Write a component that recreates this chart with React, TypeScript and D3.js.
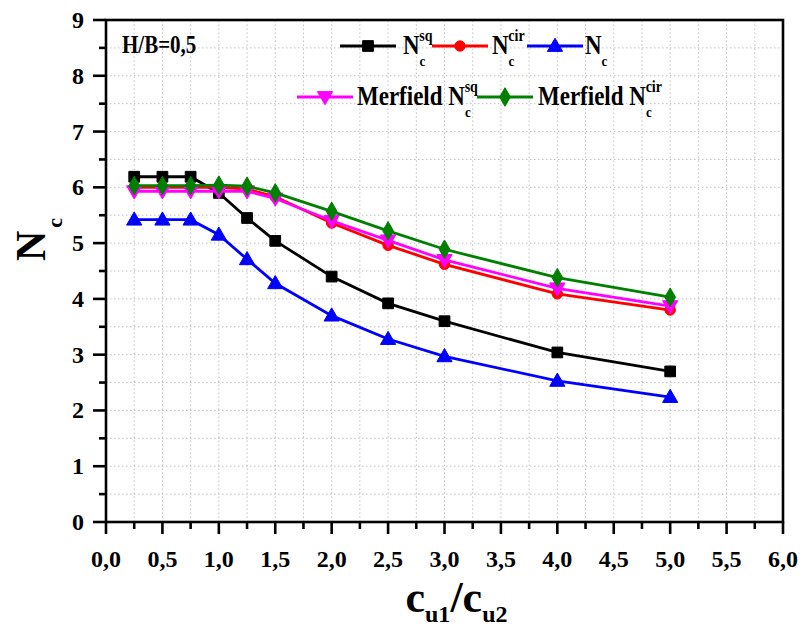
import React from "react";
import * as d3 from "d3";

const ratios = [0.25, 0.5, 0.75, 1.0, 1.25, 1.5, 2.0, 2.5, 3.0, 4.0, 5.0];
const ncSq = [6.19, 6.19, 6.19, 5.9, 5.45, 5.04, 4.4, 3.92, 3.6, 3.04, 2.7];
const ncCir = [6.0, 6.0, 6.0, 6.0, 5.97, 5.83, 5.36, 4.96, 4.62, 4.09, 3.8];
const ncPlain = [5.42, 5.42, 5.42, 5.15, 4.71, 4.28, 3.7, 3.28, 2.97, 2.53, 2.24];
const merfieldSq = [5.93, 5.93, 5.93, 5.93, 5.93, 5.8, 5.4, 5.05, 4.7, 4.19, 3.87];
const merfieldCir = [6.03, 6.03, 6.03, 6.04, 6.02, 5.9, 5.57, 5.22, 4.89, 4.38, 4.03];

const xTicks = [0, 0.5, 1, 1.5, 2, 2.5, 3, 3.5, 4, 4.5, 5, 5.5, 6];
const yTicks = [0, 1, 2, 3, 4, 5, 6, 7, 8, 9];

const W = 803, H = 628;
const m = { left: 106, right: 20, top: 20, bottom: 106 };
const font = "'Liberation Serif', 'Times New Roman', serif";

// drawing order: last one ends on top
const series = [
  { key: "plain", vals: ncPlain, color: "#0000ff", sym: d3.symbolTriangle, rot: 0 },
  { key: "sq", vals: ncSq, color: "#000000", sym: d3.symbolSquare, rot: 0 },
  { key: "cir", vals: ncCir, color: "#ff0000", sym: d3.symbolCircle, rot: 0 },
  { key: "msq", vals: merfieldSq, color: "#ff00ff", sym: d3.symbolTriangle, rot: 180 },
  { key: "mcir", vals: merfieldCir, color: "#008000", sym: d3.symbolDiamond, rot: 0 },
];

const sizes: Record<string, number> = { plain: 100, sq: 115, cir: 85, msq: 100, mcir: 100 };

export default function App() {
  const x = d3.scaleLinear().domain([0, 6]).range([m.left, W - m.right]);
  const y = d3.scaleLinear().domain([0, 9]).range([H - m.bottom, m.top]);
  const fmt = (v: number) => d3.format(".1f")(v).replace(".", ",");
  const line = d3.line<number>().x((_, i) => x(ratios[i])).y((d) => y(d));

  const xMinor = d3.range(0, 6.01, 0.25);
  const yMinor = d3.range(0, 9.01, 0.5);
  const x0 = x(0), x1 = x(6), y0 = y(0), y1 = y(9);

  const marker = (s: any, cx: number, cy: number, k: string) => (
    <path
      d={d3.symbol().type(s.sym).size(sizes[s.key])() as string}
      transform={`translate(${cx},${cy + (s.sym === d3.symbolTriangle ? (s.rot ? -1 : 1) : 0)}) rotate(${s.rot})`}
      fill={s.color}
      stroke={s.color}
      strokeWidth={1}
      key={k}
    />
  );

  const legendItem = (s: any, lx: number, ly: number) => (
    <g>
      <line x1={lx} x2={lx + 56} y1={ly} y2={ly} stroke={s.color} strokeWidth={3} />
      {marker(s, lx + 28, ly, "lg")}
    </g>
  );

  // legend label: N with subscript c and optional superscript, stretched a bit vertically
  const label = (lx: number, ly: number, pre: string, sup?: string) => (
    <text transform={`translate(${lx},${ly}) scale(1,1.18)`} fontSize={23}>
      {pre}N<tspan fontSize={13} dy={10}>c</tspan>
      {sup ? <tspan fontSize={14} dx={-6} dy={-21}>{sup}</tspan> : null}
    </text>
  );

  return (
    <svg width={W} height={H} style={{ display: "block", position: "absolute", left: 0, top: 0, background: "#fff" }}>
      {/* grid */}
      <g stroke="#c0c0c0" strokeWidth={1} strokeDasharray="1.5,2.5">
        {xMinor.filter((v) => v > 0 && v < 6).map((v) => (
          <line key={"gx" + v} x1={x(v)} x2={x(v)} y1={y0} y2={y1} />
        ))}
        {yMinor.filter((v) => v > 0 && v < 9).map((v) => (
          <line key={"gy" + v} x1={x0} x2={x1} y1={y(v)} y2={y(v)} />
        ))}
      </g>

      {/* series */}
      {series.map((s) => (
        <g key={s.key}>
          <path d={line(s.vals) as string} fill="none" stroke={s.color} strokeWidth={2.8} />
          {s.vals.map((v, i) => marker(s, x(ratios[i]), y(v), s.key + i))}
        </g>
      ))}

      {/* frame */}
      <rect x={x0} y={y1} width={x1 - x0} height={y0 - y1} fill="none" stroke="#000" strokeWidth={2.6} />

      {/* ticks */}
      <g stroke="#000" strokeWidth={2.6}>
        {xMinor.map((v, i) => (
          <line key={"tx" + v} x1={x(v)} x2={x(v)} y1={y0} y2={y0 + (i % 2 === 0 ? 12 : 7)} />
        ))}
        {yMinor.map((v, i) => (
          <line key={"ty" + v} x1={x0} x2={x0 - (i % 2 === 0 ? 13 : 7)} y1={y(v)} y2={y(v)} />
        ))}
      </g>

      {/* tick labels */}
      <g fontFamily={font} fontWeight="bold" fontSize={24} fill="#000">
        {xTicks.map((v) => (
          <text key={"lx" + v} x={x(v)} y={y0 + 45} textAnchor="middle">{fmt(v)}</text>
        ))}
        {yTicks.map((v) => (
          <text key={"ly" + v} x={x0 - 22} y={y(v) + 8} textAnchor="end">{v}</text>
        ))}
      </g>

      {/* axis titles */}
      <text x={(x0 + x1) / 2 + 12} y={612} textAnchor="middle" fontFamily={font} fontWeight="bold" fontSize={44}>
        c<tspan fontSize={24} dy={10}>u1</tspan><tspan dy={-10}>/c</tspan><tspan fontSize={24} dy={10}>u2</tspan>
      </text>
      <text transform="translate(45,261) rotate(-90)" fontFamily={font} fontWeight="bold" fontSize={42}>
        N<tspan fontSize={22} dx={3} dy={17}>c</tspan>
      </text>

      {/* annotation + legend */}
      <g fontFamily={font} fontWeight="bold" fill="#000">
        <text transform="translate(122,53) scale(1,1.15)" fontSize={21}>H/B=0,5</text>

        {legendItem(series[1], 340, 46)}
        {label(403, 54, "", "sq")}
        {legendItem(series[2], 432, 46)}
        {label(492, 54, "", "cir")}
        {legendItem(series[0], 527, 46)}
        {label(585, 54, "")}

        {legendItem(series[3], 297, 97)}
        {label(357, 105, "Merfield ", "sq")}
        {legendItem(series[4], 477, 97)}
        {label(538, 105, "Merfield ", "cir")}
      </g>
    </svg>
  );
}
